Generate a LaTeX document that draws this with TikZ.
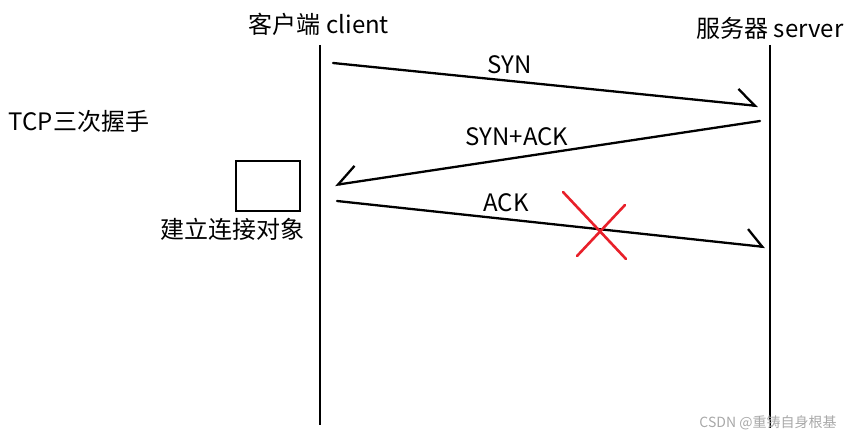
\documentclass[tikz,border=0pt]{standalone}
\usepackage{fontspec}
\setmainfont{Noto Sans CJK SC}
\definecolor{crossred}{HTML}{E8202A}
\definecolor{markgray}{HTML}{A8A8A8}
\usetikzlibrary{arrows.meta}

\begin{document}
\begin{tikzpicture}[x=1pt,y=-1pt,
    lifeline/.style={line width=2.6pt},
    msg/.style={line width=2.3pt,line cap=round},
    lbl/.style={font=\fontsize{24}{28}\selectfont,inner sep=0pt,anchor=base}]
  \useasboundingbox (0,0) rectangle (852,436);
  % headers and lifelines
  \node[lbl] (client) at (319,34) {客户端 client};
  \node[lbl] (server) at (770,38) {服务器 server};
  \coordinate (ctop) at (320,45);
  \coordinate (cbot) at (320,425);
  \coordinate (stop) at (770,45);
  \coordinate (sbot) at (770,428);
  \draw[lifeline] (ctop) -- (cbot);
  \draw[lifeline] (stop) -- (sbot);
  % message end points
  \coordinate (c1) at (333,63);
  \coordinate (s1) at (758,106);
  \coordinate (s2) at (760,121);
  \coordinate (c2) at (335,185);
  \coordinate (c3) at (337,201);
  \coordinate (s3) at (765,247);
  % three messages, half barbs
  \draw[msg,-{Straight Barb[left,length=18pt,width=30pt]}] (c1) -- (s1);
  \draw[msg,-{Straight Barb[right,length=19pt,width=32pt]}] (s2) -- (c2);
  \draw[msg,-{Straight Barb[left,length=16pt,width=32pt]}] (c3) -- (s3);
  \node[lbl] (syn) at (510,74) {SYN};
  \node[lbl] (synack) at (517,145) {SYN+ACK};
  \node[lbl] (ack) at (506,211) {ACK};
  % lost ack
  \draw[crossred,line width=2.6pt,line cap=round] (563,192) -- (626,259);
  \draw[crossred,line width=2.6pt,line cap=round] (625,205) -- (577,256);
  % side notes
  \node[lbl] (title) at (79,130) {TCP三次握手};
  \node[draw,line width=2.6pt,minimum width=64pt,minimum height=50pt,inner sep=0pt] (obj) at (268,186) {};
  \node[lbl] (objlbl) at (232,238) {建立连接对象};
  \node[font=\fontsize{14}{17}\selectfont,text=markgray,inner sep=0pt,anchor=base] (mark) at (768,427) {CSDN @重铸自身根基};
\end{tikzpicture}
\end{document}
